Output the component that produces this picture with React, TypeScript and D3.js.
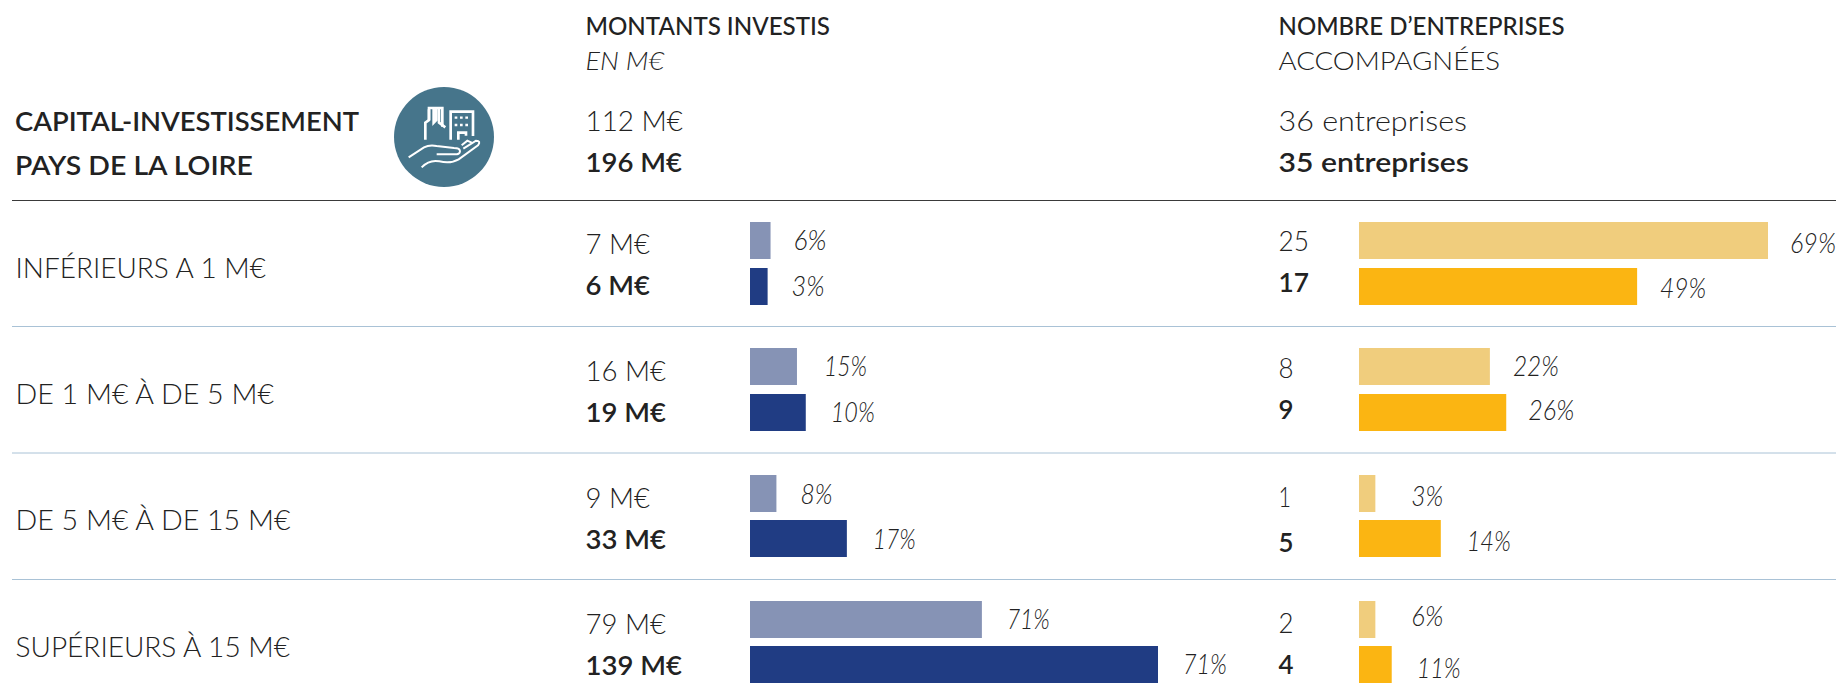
import React from "react";
import * as d3 from "d3";

// ---------- data ----------
const categories = ["INFÉRIEURS A 1 M€", "DE 1 M€ À DE 5 M€", "DE 5 M€ À DE 15 M€", "SUPÉRIEURS À 15 M€"];
const montants2023 = [7, 16, 9, 79];
const montants2024 = [6, 19, 33, 139];
const montantsPct2023 = ["6%", "15%", "8%", "71%"];
const montantsPct2024 = ["3%", "10%", "17%", "71%"];
const entreprises2023 = [25, 8, 1, 2];
const entreprises2024 = [17, 9, 5, 4];
// in the reference the last row's bars are half as long as their labels say
const entreprisesBar2023 = [25, 8, 1, 1];
const entreprisesBar2024 = [17, 9, 5, 2];
const entreprisesPct2023 = ["69%", "22%", "3%", "6%"];
const entreprisesPct2024 = ["49%", "26%", "14%", "11%"];

// ---------- layout of the labels ----------
const FONT = "Lato, 'Noto Sans', sans-serif";
const INK = "#222222";
const X_M = 585.5;
const X_E = 1278.5;
const rowLabelBase = [277.5, 404, 530, 656.5];
const rowLabelEnd = [266, 274, 290.5, 290];
const valBaseTop = [254, 381, 507.5, 634];
const valBaseBot = [295, 421.5, 548.5, 675];
const valEndTop = [650, 666, 650, 666];
const valEndBot = [650, 666, 666, 682];
const mGapTop = [23, 27, 24, 25];
const mGapBot = [24, 25, 26, 25];
const mWTop = [33, 43, 32, 43];
const mWBot = [33, 44, 43, 44];
const mBaseTop = [250, 375.5, 503.5, 629];
const mBaseBot = [296, 421.5, 548.5, 674];
const nBaseTop = [250.5, 377.5, 506.5, 632.5];
const nBaseBot = [291.5, 418.5, 551.5, 673.5];
const nEndTop = [1309, 1293.5, 1291, 1293.5];
const nEndBot = [1309, 1293.5, 1293.5, 1293.5];
const eGapTop = [22, 23, 36, 36];
const eGapBot = [23, 22, 26, 25];
const eWTop = [46, 46, 32, 32];
const eWBot = [46, 46, 44, 44];
const eBaseTop = [253, 375.5, 505.5, 626];
const eBaseBot = [298, 420, 551, 677.5];

const LIGHT_BLUE = "#8693b5";
const DARK_BLUE = "#203c83";
const LIGHT_YELLOW = "#f0cd7d";
const YELLOW = "#fbb512";

const xM = d3.scaleLinear().domain([0, 139]).range([750, 1158]);
const xE = d3.scaleLinear().domain([0, 25]).range([1359, 1768]);
const yLight = d3.scalePoint<string>().domain(categories).range([222, 601]);
const yDark = d3.scalePoint<string>().domain(categories).range([268, 646]);
const ySep = d3.scalePoint<string>().domain(categories).range([326.5, 706]);
const BAR_H = 37;

type TP = { x: number; end: number; y: number; w?: number; i?: boolean; fs?: number; children: React.ReactNode };
function T({ x, end, y, w = 300, i = false, fs = 27, children }: TP) {
  return (
    <text
      x={x}
      y={y}
      textLength={end - x}
      lengthAdjust="spacingAndGlyphs"
      fontFamily={FONT}
      fontSize={fs}
      fontWeight={w}
      fontStyle={i ? "italic" : "normal"}
      fill={INK}
    >
      {children}
    </text>
  );
}

export default function App() {
  return (
    <svg
      width={1840}
      height={699}
      viewBox="0 0 1840 699"
      style={{ position: "absolute", left: 0, top: 0, display: "block", background: "#fff" }}
    >
      {/* headers */}
      <T x={X_M} end={830} y={35} w={500} fs={25}>MONTANTS INVESTIS</T>
      <T x={X_M} end={664} y={69.5} i fs={25}>EN M€</T>
      <T x={X_E} end={1564.5} y={35} w={500} fs={25}>NOMBRE D’ENTREPRISES</T>
      <T x={X_E} end={1500} y={69.5} fs={25}>ACCOMPAGNÉES</T>

      <T x={15} end={359} y={131} w={600} fs={26}>CAPITAL-INVESTISSEMENT</T>
      <T x={15} end={253} y={175} w={600} fs={26}>PAYS DE LA LOIRE</T>

      <T x={X_M} end={683} y={130.5}>112 M€</T>
      <T x={X_M} end={682} y={172} w={600}>196 M€</T>
      <T x={X_E} end={1467} y={130.5}>36 entreprises</T>
      <T x={X_E} end={1469} y={172} w={600}>35 entreprises</T>

      {/* icon */}
      <circle cx={444} cy={137} r={50} fill="#46758b" />
      <g
        transform="translate(380,70) scale(0.3333)"
        fill="none"
        stroke="#fff"
        strokeWidth={8}
        strokeLinejoin="miter"
        strokeLinecap="butt"
      >
        <path d="M136 209V158L147 150V114H161V158L169 150V114H187V170" />
        <path d="M147 118V150M177 116V158L196 172" />
        <path d="M212 209V125H279V198" />
        <path d="M235 209V188H258V197" />
        <path d="M224 143h8M240 143h8M256 143h8M224 165h8M240 165h8M256 165h8" strokeWidth={7} />
        <path d="M86 262L132 232Q148 224 170 228L222 234Q240 234 240 244Q240 254 222 253H170" strokeWidth={6} />
        <path d="M125 292Q148 268 178 274Q212 282 236 268L294 226Q304 212 288 212L250 236M245 226L262 212L275 218" strokeWidth={6} />
      </g>

      {/* rules */}
      <line x1={12} x2={1836} y1={200.5} y2={200.5} stroke="#3a3a3a" strokeWidth={1.2} />
      {categories.slice(0, 3).map((c) => (
        <line key={c} x1={12} x2={1836} y1={ySep(c)} y2={ySep(c)} stroke="#a9c2d6" strokeWidth={1} />
      ))}

      {/* rows */}
      {categories.map((c, k) => {
        const yl = Math.round(yLight(c)!);
        const yd = Math.round(yDark(c)!);
        const mEndT = xM(montants2023[k]);
        const mEndB = xM(montants2024[k]);
        const eEndT = xE(entreprisesBar2023[k]);
        const eEndB = xE(entreprisesBar2024[k]);
        return (
          <g key={c}>
            <T x={15.5} end={rowLabelEnd[k]} y={rowLabelBase[k]}>{c}</T>

            <T x={X_M} end={valEndTop[k]} y={valBaseTop[k]}>{montants2023[k]} M€</T>
            <T x={X_M} end={valEndBot[k]} y={valBaseBot[k]} w={600}>{montants2024[k]} M€</T>

            <rect x={xM(0)} y={yl} width={mEndT - xM(0)} height={BAR_H} fill={LIGHT_BLUE} />
            <rect x={xM(0)} y={yd} width={mEndB - xM(0)} height={BAR_H} fill={DARK_BLUE} />
            <T x={mEndT + mGapTop[k]} end={mEndT + mGapTop[k] + mWTop[k]} y={mBaseTop[k]} i>{montantsPct2023[k]}</T>
            <T x={mEndB + mGapBot[k]} end={mEndB + mGapBot[k] + mWBot[k]} y={mBaseBot[k]} i>{montantsPct2024[k]}</T>

            <T x={X_E} end={nEndTop[k]} y={nBaseTop[k]}>{entreprises2023[k]}</T>
            <T x={X_E} end={nEndBot[k]} y={nBaseBot[k]} w={600}>{entreprises2024[k]}</T>

            <rect x={xE(0)} y={yl} width={eEndT - xE(0)} height={BAR_H} fill={LIGHT_YELLOW} />
            <rect x={xE(0)} y={yd} width={eEndB - xE(0)} height={BAR_H} fill={YELLOW} />
            <T x={eEndT + eGapTop[k]} end={eEndT + eGapTop[k] + eWTop[k]} y={eBaseTop[k]} i>{entreprisesPct2023[k]}</T>
            <T x={eEndB + eGapBot[k]} end={eEndB + eGapBot[k] + eWBot[k]} y={eBaseBot[k]} i>{entreprisesPct2024[k]}</T>
          </g>
        );
      })}
    </svg>
  );
}
